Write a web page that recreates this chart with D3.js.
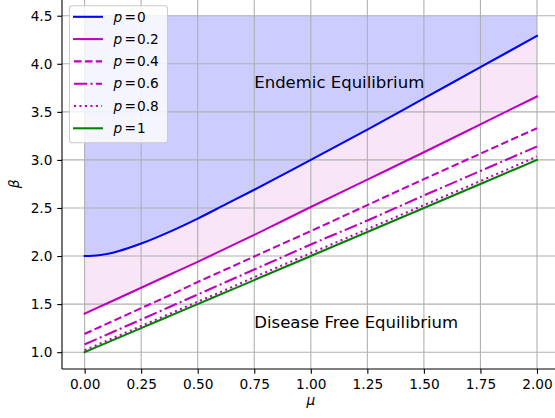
<!DOCTYPE html>
<html>
<head>
<meta charset="utf-8">
<script src="https://cdn.jsdelivr.net/npm/d3@7"></script>
<style>
  html, body { margin: 0; padding: 0; background: #fff; }
  svg { display: block; font-family: "DejaVu Sans", sans-serif; }
</style>
</head>
<body>
<svg id="chart" width="555" height="418"></svg>
<script>
// Threshold curves beta(mu) for several values of p
const muValues = [0, 0.0625, 0.125, 0.1875, 0.25, 0.375, 0.5, 0.625, 0.75, 0.875, 1, 1.25, 1.5, 1.75, 2];
const pLabels  = ["0", "0.2", "0.4", "0.6", "0.8", "1"];
const beta_p0  = [2.000, 2.009, 2.035, 2.078, 2.13, 2.252, 2.39, 2.54, 2.69, 2.845, 3.00, 3.315, 3.64, 3.965, 4.29];
const beta_p02 = [1.40, 1.468, 1.535, 1.603, 1.67, 1.805, 1.94, 2.08, 2.22, 2.365, 2.51, 2.795, 3.08, 3.37, 3.66];
const beta_p04 = [1.19, 1.257, 1.324, 1.391, 1.458, 1.59, 1.73, 1.862, 1.995, 2.128, 2.26, 2.53, 2.80, 3.065, 3.33];
const beta_p06 = [1.08, 1.145, 1.21, 1.275, 1.34, 1.47, 1.60, 1.73, 1.86, 1.99, 2.12, 2.37, 2.63, 2.885, 3.14];
const beta_p08 = [1.02, 1.083, 1.146, 1.209, 1.272, 1.398, 1.525, 1.65, 1.78, 1.905, 2.03, 2.28, 2.53, 2.78, 3.035];
const beta_p1  = [1.00, 1.0625, 1.125, 1.1875, 1.25, 1.375, 1.50, 1.625, 1.75, 1.875, 2.00, 2.25, 2.50, 2.75, 3.00];
const betaTop = 4.5;
const xTicks = [0, 0.25, 0.5, 0.75, 1, 1.25, 1.5, 1.75, 2];
const yTicks = [1.0, 1.5, 2.0, 2.5, 3.0, 3.5, 4.0, 4.5];
const regionLabels = [
  { text: "Endemic Equilibrium", mu: 0.75, beta: 3.75 },
  { text: "Disease Free Equilibrium", mu: 0.75, beta: 1.25 }
];

const seriesValues = [beta_p0, beta_p02, beta_p04, beta_p06, beta_p08, beta_p1];
const styles = [
  { color: "#0000ff", dash: null },
  { color: "#bf00bf", dash: null },
  { color: "#bf00bf", dash: "7.6,3.3" },
  { color: "#bf00bf", dash: "13.2,3.3,2.06,3.3" },
  { color: "#bf00bf", dash: "2.06,3.4" },
  { color: "#008000", dash: null }
];

const svg = d3.select("#chart");
const plotLeft = 62, plotRight = 559.6, plotTop = -1.1, plotBottom = 369;

const x = d3.scaleLinear().domain([-0.1, 2.1]).range([plotLeft, plotRight]);
const y = d3.scaleLinear().domain([0.825, 4.675]).range([plotBottom, plotTop]);

const pts = vals => muValues.map((m, i) => [m, vals[i]]);
const curve = d3.curveMonotoneX;
const line = d3.line().x(d => x(d[0])).y(d => y(d[1])).curve(curve);

// Filled regions
const blueArea = d3.area()
  .x(d => x(d[0])).y0(y(betaTop)).y1(d => y(d[1])).curve(curve);
svg.append("path").attr("d", blueArea(pts(beta_p0)))
  .attr("fill", "#0000ff").attr("fill-opacity", 0.2);

const pinkData = muValues.map((m, i) => ({ m, lo: beta_p02[i], hi: beta_p0[i] }));
const pinkArea = d3.area()
  .x(d => x(d.m)).y0(d => y(d.lo)).y1(d => y(d.hi)).curve(curve);
svg.append("path").attr("d", pinkArea(pinkData))
  .attr("fill", "#bf00bf").attr("fill-opacity", 0.1);

// Grid
const grid = svg.append("g").attr("stroke", "#b0b0b0").attr("stroke-width", 1.1);
xTicks.forEach(t => grid.append("line")
  .attr("x1", x(t)).attr("x2", x(t)).attr("y1", plotTop).attr("y2", plotBottom));
yTicks.forEach(t => grid.append("line")
  .attr("x1", plotLeft).attr("x2", plotRight).attr("y1", y(t)).attr("y2", y(t)));

// Curves
seriesValues.forEach((vals, i) => {
  svg.append("path").attr("d", line(pts(vals)))
    .attr("fill", "none")
    .attr("stroke", styles[i].color)
    .attr("stroke-width", 2.06)
    .attr("stroke-dasharray", styles[i].dash)
    .attr("stroke-linecap", styles[i].dash ? "butt" : "square");
});

// Region labels
regionLabels.forEach(r => svg.append("text")
  .attr("x", x(r.mu)).attr("y", y(r.beta))
  .attr("font-size", 16.5).attr("fill", "#000")
  .text(r.text));

// Axes
const xAxis = d3.axisBottom(x).tickValues(xTicks).tickFormat(d3.format(".2f"))
  .tickSize(4.8).tickPadding(4.8);
const yAxis = d3.axisLeft(y).tickValues(yTicks).tickFormat(d3.format(".1f"))
  .tickSize(4.8).tickPadding(4.8);

const gx = svg.append("g").attr("transform", `translate(0,${plotBottom})`).call(xAxis);
const gy = svg.append("g").attr("transform", `translate(${plotLeft},0)`).call(yAxis);
[gx, gy].forEach(g => {
  g.select(".domain").remove();
  g.selectAll(".tick line").attr("stroke", "#000").attr("stroke-width", 1.1);
  g.selectAll(".tick text").attr("font-size", 13.7).attr("fill", "#000")
    .attr("font-family", "DejaVu Sans");
});
gx.selectAll(".tick text").attr("dy", "0.74em");

// Spines
svg.append("line").attr("x1", plotLeft).attr("x2", plotLeft).attr("y1", plotTop).attr("y2", plotBottom)
  .attr("stroke", "#000").attr("stroke-width", 1.1);
svg.append("line").attr("x1", plotLeft).attr("x2", plotRight).attr("y1", plotBottom).attr("y2", plotBottom)
  .attr("stroke", "#000").attr("stroke-width", 1.1);

// Axis labels
svg.append("text").attr("x", (plotLeft + plotRight) / 2).attr("y", 404.5)
  .attr("text-anchor", "middle").attr("font-size", 13.7).attr("font-style", "italic")
  .text("μ");
svg.append("text").attr("transform", `translate(18.8,${(plotTop + plotBottom) / 2}) rotate(-90)`)
  .attr("text-anchor", "middle").attr("font-size", 13.7).attr("font-style", "italic")
  .text("β");

// Legend
const legend = svg.append("g");
legend.append("rect").attr("x", 69.5).attr("y", 5.8).attr("width", 98).attr("height", 137)
  .attr("rx", 2.8).attr("fill", "#fff").attr("fill-opacity", 0.8)
  .attr("stroke", "#cccccc").attr("stroke-width", 1.1);
pLabels.forEach((lab, i) => {
  const yy = 16.8 + i * 22.3;
  legend.append("line").attr("x1", 74).attr("x2", 102).attr("y1", yy).attr("y2", yy)
    .attr("stroke", styles[i].color).attr("stroke-width", 2.06)
    .attr("stroke-dasharray", styles[i].dash)
    .attr("stroke-linecap", styles[i].dash ? "butt" : "square");
  const t = legend.append("text").attr("y", yy).attr("dy", "0.35em")
    .attr("font-size", 13.7).attr("fill", "#000");
  t.append("tspan").attr("x", 113.5).attr("font-style", "italic").text("p");
  t.append("tspan").attr("x", 124.5).text("=");
  t.append("tspan").attr("x", 137).text(lab);
});
</script>
</body>
</html>
